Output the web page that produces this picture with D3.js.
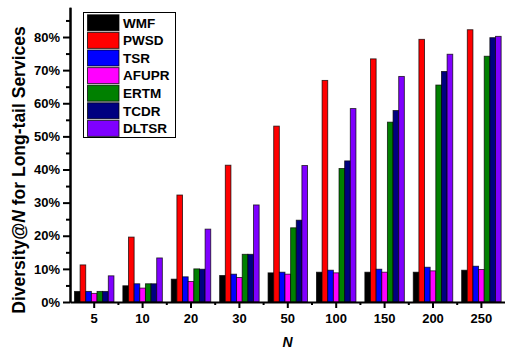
<!DOCTYPE html>
<html>
<head>
<meta charset="utf-8">
<script src="https://cdn.jsdelivr.net/npm/d3@7"></script>
<style>
    body { margin: 0; background: #fff; }
    svg { display: block; font-family: Arial, "Liberation Sans", sans-serif; }
    .axis path, .axis line { stroke: #000; stroke-width: 2; }
    .axis text { font-size: 13px; font-weight: bold; fill: #000; }
</style>
</head>
<body>
<div id="chart"></div>
<script>
;(function () {
    "use strict";

    var categories = ["5", "10", "20", "30", "50", "100", "150", "200", "250"];
    var series = ["WMF", "PWSD", "TSR", "AFUPR", "ERTM", "TCDR", "DLTSR"];
    var colors = ["#000000", "#ff0000", "#0000ff", "#ff00ff", "#008000", "#000080", "#7f00ff"];

    // Diversity@N values (%), one array per method
    var WMF   = [3.2, 4.9, 6.9, 8.0, 8.8, 9.0, 9.0, 9.0, 9.6];
    var PWSD  = [11.2, 19.6, 32.3, 41.3, 53.1, 66.9, 73.4, 79.3, 82.2];
    var TSR   = [3.2, 5.5, 7.6, 8.4, 9.0, 9.6, 9.9, 10.5, 10.8];
    var AFUPR = [2.6, 4.2, 6.2, 7.4, 8.4, 8.8, 9.0, 9.4, 9.8];
    var ERTM  = [3.2, 5.5, 10.0, 14.4, 22.4, 40.3, 54.3, 65.5, 74.2];
    var TCDR  = [3.2, 5.5, 9.9, 14.4, 24.7, 42.6, 57.8, 69.6, 79.8];
    var DLTSR = [7.9, 13.3, 22.0, 29.3, 41.2, 58.4, 68.1, 74.8, 80.2];
    var values = [WMF, PWSD, TSR, AFUPR, ERTM, TCDR, DLTSR];

    var yTicks = [0, 10, 20, 30, 40, 50, 60, 70, 80];
    var yMinor = [5, 15, 25, 35, 45, 55, 65, 75, 85];

    var width = 505, height = 350;
    var svg, x, xs, y, g, i;

    svg = d3.select("#chart").append("svg")
        .attr("width", width)
        .attr("height", height);

    x = d3.scaleBand().domain(categories).range([70, 505.6])
        .paddingInner(0.184).paddingOuter(0.092);
    xs = d3.scaleBand().domain(series).range([0, x.bandwidth()]);
    y = d3.scaleLinear().domain([0, 89]).range([302, 7.2]);

    // bars
    g = svg.append("g");
    categories.forEach(function (c, ci) {
        series.forEach(function (s, si) {
            g.append("rect")
                .attr("x", x(c) + xs(s))
                .attr("y", y(values[si][ci]))
                .attr("width", xs.bandwidth())
                .attr("height", y(0) - y(values[si][ci]))
                .attr("fill", colors[si])
                .attr("stroke", "#000")
                .attr("stroke-opacity", 0.75)
                .attr("stroke-width", 0.9);
        });
    });

    // y axis, major + minor ticks
    svg.append("g").attr("class", "axis")
        .attr("transform", "translate(70,0)")
        .call(d3.axisLeft(y).tickValues(yTicks).tickSize(7).tickSizeOuter(0)
            .tickPadding(3).tickFormat(function (d) { return d + "%"; }));
    svg.append("g").attr("class", "axis")
        .attr("transform", "translate(70,0)")
        .call(d3.axisLeft(y).tickValues(yMinor).tickSize(4).tickSizeOuter(0).tickFormat(""));

    // x axis
    svg.append("g").attr("class", "axis")
        .attr("transform", "translate(0," + y(0) + ")")
        .call(d3.axisBottom(x).tickSize(6).tickSizeOuter(0).tickPadding(6));
    for (i = 1; i < categories.length; i++) {
        svg.append("line")
            .attr("x1", x(categories[i]) - x.step() * x.paddingOuter())
            .attr("x2", x(categories[i]) - x.step() * x.paddingOuter())
            .attr("y1", y(0)).attr("y2", y(0) + 3)
            .attr("stroke", "#000").attr("stroke-width", 2);
    }

    // axis titles
    svg.append("text")
        .attr("x", 287.5).attr("y", 347)
        .attr("text-anchor", "middle")
        .style("font-size", "14px").style("font-weight", "bold").style("font-style", "italic")
        .text("N");

    var yt = svg.append("text")
        .attr("transform", "translate(25,170) rotate(-90)")
        .attr("text-anchor", "middle")
        .style("font-size", "17.5px").style("font-weight", "bold");
    yt.append("tspan").text("Diversity@");
    yt.append("tspan").style("font-style", "italic").text("N");
    yt.append("tspan").text(" for Long-tail Services");

    // legend
    var lg = svg.append("g").attr("transform", "translate(83.5,12.5)");
    lg.append("rect")
        .attr("width", 92).attr("height", 125)
        .attr("fill", "#fff").attr("stroke", "#000").attr("stroke-width", 1);
    series.forEach(function (s, si) {
        lg.append("rect")
            .attr("x", 4).attr("y", 2.3 + si * 17.6)
            .attr("width", 31.5).attr("height", 16)
            .attr("fill", colors[si])
            .attr("stroke", "#000").attr("stroke-opacity", 0.75).attr("stroke-width", 1);
        lg.append("text")
            .attr("x", 39.5).attr("y", 15 + si * 17.6)
            .style("font-size", "13.5px").style("font-weight", "bold")
            .text(s);
    });
}());
</script>
</body>
</html>
